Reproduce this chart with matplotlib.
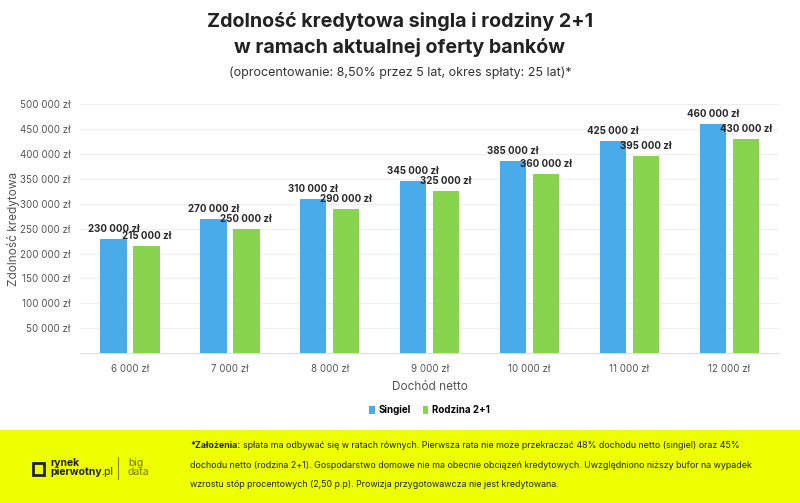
import matplotlib.pyplot as plt
import numpy as np

# dane
dochod = ['6 000 zł', '7 000 zł', '8 000 zł', '9 000 zł', '10 000 zł', '11 000 zł', '12 000 zł']
singiel = [230000, 270000, 310000, 345000, 385000, 425000, 460000]
rodzina = [215000, 250000, 290000, 325000, 360000, 395000, 430000]
y_ticks = [50000, 100000, 150000, 200000, 250000, 300000, 350000, 400000, 450000, 500000]

BLUE = '#4AABEB'
GREEN = '#88D44E'
YELLOW = '#EEFF00'
DARK = '#222222'

plt.rcParams['font.family'] = ['Inter', 'DejaVu Sans']


def fmt_zl(v):
    return f'{v:,}'.replace(',', ' ') + ' zł'


fig = plt.figure(figsize=(8, 5.03), dpi=100)
ax = fig.add_axes([0.10, 0.298, 0.874, 0.495])

x = np.arange(len(dochod))
w = 0.265
off = 0.165
b1 = ax.bar(x - off, singiel, w, color=BLUE, label='Singiel', zorder=3)
b2 = ax.bar(x + off, rodzina, w, color=GREEN, label='Rodzina 2+1', zorder=3)

for bars, vals in ((b1, singiel), (b2, rodzina)):
    for b, v in zip(bars, vals):
        ax.text(b.get_x() + b.get_width() / 2, v + 10000, fmt_zl(v),
                ha='center', va='bottom', fontsize=7, fontweight='bold', color='#2a2a2a')

ax.set_xlim(-0.5, len(dochod) - 0.5)
ax.set_ylim(0, 500000)
ax.set_yticks(y_ticks)
ax.set_yticklabels([fmt_zl(v) for v in y_ticks], fontsize=7, color='#555555')
ax.set_xticks(x)
ax.set_xticklabels(dochod, fontsize=7, color='#555555')
ax.tick_params(length=0)
ax.tick_params(axis='x', pad=8)
ax.tick_params(axis='y', pad=7)
ax.grid(axis='y', color='#eeeeee', lw=0.8, zorder=0)
for s in ('top', 'right', 'left'):
    ax.spines[s].set_visible(False)
ax.spines['bottom'].set_color('#dddddd')
ax.set_xlabel('Dochód netto', fontsize=8.5, color='#555555', labelpad=5)
ax.set_ylabel('Zdolność kredytowa', fontsize=8.5, color='#555555')
ax.yaxis.set_label_coords(-0.086, 0.5)

ax.legend(loc='center', bbox_to_anchor=(0.5, -0.23), ncol=2, frameon=False,
          prop={'size': 7, 'weight': 'bold'}, handlelength=0.6, handleheight=0.9,
          handletextpad=0.4, columnspacing=1.2)

fig.text(0.5, 0.957, 'Zdolność kredytowa singla i rodziny 2+1', ha='center', va='center',
         fontsize=14.2, fontweight='bold', color=DARK)
fig.text(0.5, 0.905, 'w ramach aktualnej oferty banków', ha='center', va='center',
         fontsize=14.2, fontweight='bold', color=DARK)
fig.text(0.5, 0.855, '(oprocentowanie: 8,50% przez 5 lat, okres spłaty: 25 lat)*', ha='center',
         va='center', fontsize=9, color='#333333')

# stopka
foot = fig.add_axes([0, 0, 1, 0.145])
foot.set_xlim(0, 800)
foot.set_ylim(0, 73)
foot.axis('off')
foot.add_patch(plt.Rectangle((0, 0), 800, 73, color=YELLOW))
foot.add_patch(plt.Rectangle((33, 28), 11, 12, fill=False, lw=2, ec=DARK))
foot.text(50, 40, 'rynek', fontsize=7.5, color=DARK, va='center', fontweight='bold')
pw = foot.text(50, 31, 'pierwotny', fontsize=7.5, color=DARK, va='center', fontweight='bold')
fig.canvas.draw()
bb = pw.get_window_extent().transformed(foot.transData.inverted())
foot.text(bb.x1, 31, '.pl', fontsize=7.5, color=DARK, va='center')
foot.plot([118, 118], [24, 46], color='#888800', lw=0.8)
foot.text(128, 40, 'big', fontsize=7.5, color='#777700', va='center')
foot.text(128, 31, 'data', fontsize=7.5, color='#777700', va='center')

lines = [
    'spłata ma odbywać się w ratach równych. Pierwsza rata nie może przekraczać 48% dochodu netto (singiel) oraz 45%',
    'dochodu netto (rodzina 2+1). Gospodarstwo domowe nie ma obecnie obciążeń kredytowych. Uwzględniono niższy bufor na wypadek',
    'wzrostu stóp procentowych (2,50 p.p). Prowizja przygotowawcza nie jest kredytowana.',
]
zal = foot.text(190, 58, '*Założenia:', fontsize=6.4, fontweight='bold', color=DARK, va='center')
fig.canvas.draw()
zb = zal.get_window_extent().transformed(foot.transData.inverted())
foot.text(zb.x1 + 3, 58, lines[0], fontsize=6.4, color=DARK, va='center')
foot.text(190, 38, lines[1], fontsize=6.4, color=DARK, va='center')
foot.text(190, 19, lines[2], fontsize=6.4, color=DARK, va='center')

fig.savefig('out.png', dpi=100)
